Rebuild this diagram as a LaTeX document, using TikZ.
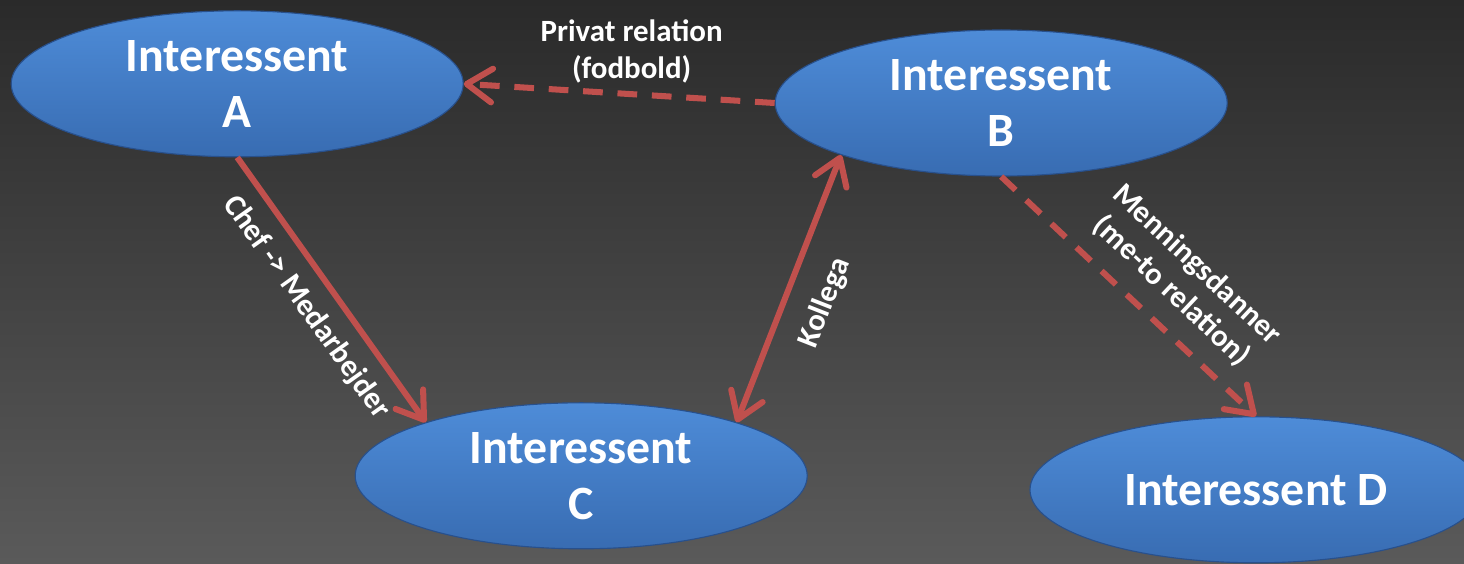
\documentclass[tikz,border=0pt]{standalone}
\usepackage{fontspec}
\setmainfont{Carlito}
\usepackage{xcolor}
\usetikzlibrary{positioning,arrows.meta,shapes.geometric}

\definecolor{bgtop}{RGB}{42,42,42}
\definecolor{bgbottom}{RGB}{90,90,90}
\definecolor{persontop}{RGB}{78,140,216}
\definecolor{personbottom}{RGB}{56,108,178}
\definecolor{persondark}{RGB}{40,80,140}
\definecolor{relred}{RGB}{192,80,77}

\begin{document}
\begin{tikzpicture}[
        >={Straight Barb[length=18pt,width=24pt,round]},
        person/.style={ellipse, draw=persondark, line width=0.8pt, top color=persontop, bottom color=personbottom,
            minimum width=11.3cm, minimum height=3.65cm, inner sep=0pt, align=center, text=white,
            font=\bfseries\fontsize{34}{40}\selectfont},
        rel/.style={draw=relred, line width=4.3pt, ->},
        reldash/.style={rel, dash pattern=on 14pt off 10.5pt},
        lbl/.style={text=white, inner sep=2pt, align=center, font=\bfseries\fontsize{22}{26}\selectfont}
    ]
    % Baggrund
    \fill[top color=bgtop, bottom color=bgbottom] (0,0) rectangle (36.6,14.075);
    \useasboundingbox (0,0) rectangle (36.6,14.075);

    % Interessenter
    \node[person] (intA) at (5.93,11.98) {Interessent\\A};
    \node[person] (intB) at (25.03,11.5) {Interessent\\B};
    \node[person] (intC) at (14.53,2.18) {Interessent\\C};
    \node[person] (intD) at (31.4,1.83)  {Interessent D};

    % Relationer
    \draw[reldash] (intB.west) -- node[lbl, pos=0.46, above=4pt] {Privat relation\\(fodbold)} (intA.east);
    \draw[rel] (intA.south) -- node[lbl, sloped, below=8pt] {Chef -> Medarbejder} (intC.161);
    \draw[rel, <->] (intC.19) -- node[lbl, sloped, below=14pt] {Kollega} (intB.198);
    \draw[reldash] (intB.south) -- node[lbl, sloped, pos=0.58, above=10pt] {Menningsdanner\\(me-to relation)} (intD.north);
\end{tikzpicture}
\end{document}
